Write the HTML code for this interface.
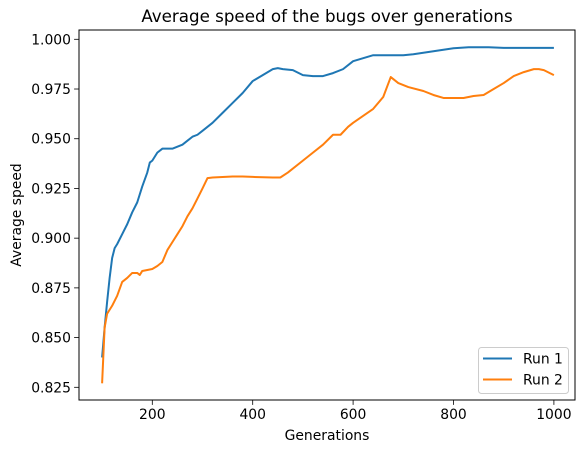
<!DOCTYPE html>
<html><head><meta charset="utf-8"><style>
body{margin:0;background:#fff;font-family:"DejaVu Sans","Liberation Sans",sans-serif}
</style></head><body>
<svg id="chart" width="585" height="453" xmlns="http://www.w3.org/2000/svg" font-family="DejaVu Sans, Liberation Sans, sans-serif">
<rect width="585" height="453" fill="#fff"/>
<g id="plot"></g>
</svg>
<script>
const xTicks=[200,400,600,800,1000];
const yTicks=[0.825,0.850,0.875,0.900,0.925,0.950,0.975,1.000];
const run1Gen=[100,105,110,115,120,125,130,140,150,160,170,180,190,195,200,210,220,230,240,250,260,270,280,290,300,310,320,340,360,380,400,420,440,450,460,480,500,520,540,560,580,600,620,640,660,700,720,760,800,830,870,900,1000];
const run1Val=[.840,.855,.868,.880,.890,.895,.897,.902,.907,.913,.918,.926,.933,.938,.939,.943,.945,.945,.945,.946,.947,.949,.951,.952,.954,.956,.958,.963,.968,.973,.979,.982,.985,.9855,.985,.9845,.982,.9815,.9815,.983,.985,.989,.9905,.992,.992,.992,.9925,.994,.9955,.996,.996,.9957,.9957];
const run2Gen=[100,105,110,120,130,140,150,160,170,175,180,190,200,210,220,230,240,250,260,270,280,290,300,310,320,360,380,400,440,455,470,500,520,540,560,575,590,600,640,660,675,690,710,740,760,780,795,820,840,860,880,900,920,940,960,970,980,1000];
const run2Val=[.827,.855,.862,.866,.871,.878,.880,.8825,.8825,.8815,.8835,.884,.8845,.886,.888,.894,.898,.902,.906,.911,.915,.920,.925,.9302,.9305,.931,.931,.9308,.9305,.9305,.933,.939,.943,.947,.952,.952,.956,.958,.965,.971,.981,.978,.976,.974,.972,.9705,.9705,.9705,.9715,.972,.975,.978,.9815,.9835,.985,.985,.9845,.982];
const L=79,R=575,T=30,B=400;
const xs=v=>152.3+(v-200)*0.502;
const ys=v=>39.3+(1-v)*1988.6;
const NS='http://www.w3.org/2000/svg';
const g=document.getElementById('plot');
function mk(tag,attrs,txt){const e=document.createElementNS(NS,tag);for(const k in attrs)e.setAttribute(k,attrs[k]);if(txt!==undefined)e.textContent=txt;g.appendChild(e);return e;}
xTicks.forEach(t=>{
 const l=mk('line',{x1:xs(t),x2:xs(t),y1:B,y2:B+4.9,stroke:'#000','stroke-width':0.8});
 
 
 const tx=mk('text',{x:xs(t),y:B+19,'font-size':13.9,'text-anchor':'middle'},String(t));
 
 
});
yTicks.forEach(t=>{
 const l=mk('line',{x1:L-4.9,x2:L,y1:ys(t),y2:ys(t),stroke:'#000','stroke-width':0.8});
 
 
 const tx=mk('text',{x:L-8,y:ys(t)+5,'font-size':13.9,'text-anchor':'end'},t.toFixed(3));
 
 
});
function line(gen,val,color,name){
 const p=mk('polyline',{points:gen.map((v,i)=>xs(v).toFixed(2)+','+ys(val[i]).toFixed(2)).join(' '),fill:'none',stroke:color,'stroke-width':2,'stroke-linejoin':'round'});
 
 
}
line(run1Gen,run1Val,'#1f77b4','run-1-line');
line(run2Gen,run2Val,'#ff7f0e','run-2-line');
const fr=mk('rect',{x:L,y:T,width:R-L,height:B-T,fill:'none',stroke:'#000','stroke-width':1});


const ti=mk('text',{x:(L+R)/2,y:22,'font-size':16.7,'text-anchor':'middle'},'Average speed of the bugs over generations');


const xl=mk('text',{x:(L+R)/2,y:440,'font-size':13.9,'text-anchor':'middle'},'Generations');


const yl=mk('text',{x:0,y:0,'font-size':13.9,'text-anchor':'middle',transform:'translate(21,215) rotate(-90)'},'Average speed');


const lg=mk('rect',{x:478.5,y:347.5,width:90,height:46,rx:3,fill:'#fff',stroke:'#ccc','stroke-width':1,'fill-opacity':0.8});


[['Run 1','#1f77b4',358.5],['Run 2','#ff7f0e',379.5]].forEach(([n,c,y],i)=>{
 const s=mk('line',{x1:483,x2:512,y1:y,y2:y,stroke:c,'stroke-width':2});
 
 
 const t=mk('text',{x:523,y:y+5,'font-size':13.9},n);
 
 
});
</script>
</body></html>
